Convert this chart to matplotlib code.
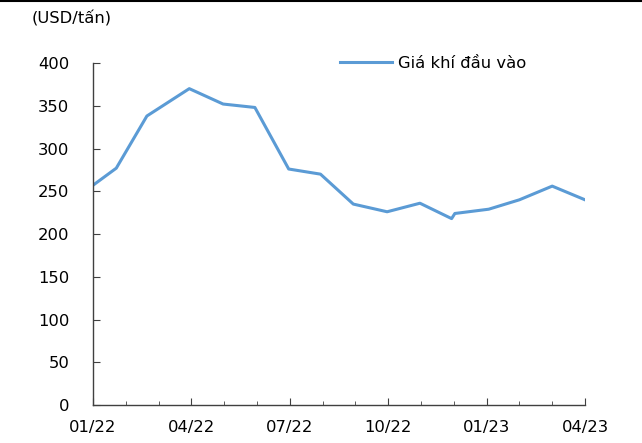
import pandas as pd
import numpy as np
import matplotlib
matplotlib.use('Agg')
import matplotlib.pyplot as plt
from matplotlib.ticker import MultipleLocator, FixedLocator

# data
dates = ['2022-01-01', '2022-01-23', '2022-02-19', '2022-03-30', '2022-04-30',
         '2022-05-30', '2022-06-30', '2022-07-30', '2022-08-30', '2022-09-30',
         '2022-10-31', '2022-11-29', '2022-12-02', '2023-01-03', '2023-02-01',
         '2023-03-01', '2023-04-01']
gas_price = [257, 277, 338, 370, 352, 348, 276, 270, 235, 226, 236, 218, 224,
             229, 240, 256, 240]
tick_labels = ['01/22', '04/22', '07/22', '10/22', '01/23', '04/23']

# fractional month position from Jan 2022 (Excel-style month axis)
d = pd.to_datetime(dates)
x = (d.year - 2022) * 12 + (d.month - 1) + (d.day - 1) / d.days_in_month

fig = plt.figure(figsize=(6.42, 4.43), dpi=100)
ax = fig.add_axes([93/642, 1-405/443, (585-93)/642, (405-63)/443])

ax.plot(x, gas_price, color='#5B9BD5', lw=2.2, label='Giá khí đầu vào')

ax.set_xlim(0, 15)
ax.set_ylim(0, 400)
ax.yaxis.set_major_locator(MultipleLocator(50))
ax.xaxis.set_major_locator(FixedLocator(np.arange(0, 16, 3)))
ax.xaxis.set_minor_locator(FixedLocator(np.arange(0, 16, 1)))
ax.set_xticklabels(tick_labels)

for s in ['top', 'right']:
    ax.spines[s].set_visible(False)
for s in ['left', 'bottom']:
    ax.spines[s].set_color('#404040')
    ax.spines[s].set_linewidth(1.0)

ax.tick_params(axis='y', direction='in', length=5, pad=17, labelsize=11.8, color='#404040')
ax.tick_params(axis='x', which='major', direction='in', length=5, pad=11, labelsize=11.8, color='#404040')
ax.tick_params(axis='x', which='minor', direction='in', length=3, color='#404040')

fig.text(32/642, 1-18/443, '(USD/tấn)', fontsize=11.8, va='center', ha='left')

leg = ax.legend(loc='upper left', bbox_to_anchor=(232/492, 1.064), frameon=False,
                fontsize=11.8, handlelength=3.2, handletextpad=0.35)

# thin rule at very top of image
fig.add_artist(plt.Line2D([0, 1], [1-1/443, 1-1/443], color='black', lw=1.5,
                          transform=fig.transFigure))

plt.savefig('out.png', dpi=100)
